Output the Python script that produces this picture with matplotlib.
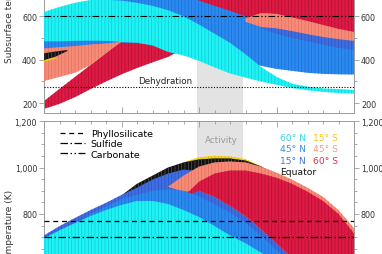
import numpy as np
import matplotlib.pyplot as plt
from matplotlib.lines import Line2D
from matplotlib.ticker import MultipleLocator, FuncFormatter

nan = np.nan

# time axis (arbitrary units, major tick every 5)
x = np.arange(21)
activity = (9.9, 12.85)

# ---- top panel: subsurface temperature envelopes (K) ----
cyan_hi = [620, 643, 662, 675, 676, 672, 662, 648, 628, 600, 562, 520, 478, 425, 367, 321, 290, 276, 268, 265, 261]
cyan_lo = [485, 485, 487, 488, 487, 482, 478, 466, 436, 420, 395, 365, 337, 318, 300, 285, 270, 260, 252, 247, 244]
dodger_hi = [560, 590, 620, 660, 700, 720, 720, 720, 720, 700, 672, 648, 625, 600, 570, 556, 546, 536, 528, 522, 518]
dodger_lo = [445, 448, 455, 462, 470, 478, 480, 480, 480, 470, 450, 430, 400, 385, 372, 358, 349, 340, 335, 333, 332]
royal_hi = [450, 455, 460, nan, nan, nan, nan, nan, nan, nan, nan, nan, nan, nan, 550, 545, 540, 530, 520, 510, 500]
royal_lo = [425, 430, 440, nan, nan, nan, nan, nan, nan, nan, nan, nan, nan, nan, 545, 520, 500, 485, 470, 455, 445]
salmon_hi = [452, 458, 463, 470, 475, 482, nan, nan, nan, nan, nan, nan, nan, 590, 615, 611, 595, 578, 560, 542, 528]
salmon_lo = [302, 321, 340, 376, 431, 482, nan, nan, nan, nan, nan, nan, nan, 575, 551, 545, 532, 518, 505, 495, 487]
red_hi = [210, 266, 321, 376, 431, 487, 560, 640, 720, 760, 760, 760, 760, 760, 760, 760, 760, 760, 760, 760, 760]
red_lo = [174, 197, 228, 265, 300, 333, 362, 388, 413, 450, 480, 520, 540, 560, 560, 560, 555, 550, 540, 530, 520]
black_x = [0, 0.75, 1.5]
black_hi = [430, 438, 445]
black_lo = [398, 415, 440]
yellow_x = [0, 0.4, 0.8]
yellow_hi = [404, 406, 410]
yellow_lo = [392, 398, 406]

# ---- bottom panel: temperature envelopes (K) ----
cyan_b = [695, 730, 761, 791, 817, 839, 856, 856, 843, 817, 787, 748, 708, 674, 634, 600, 560, 520, 480, 440, 400]
dodger_b = [660, 700, 745, 800, 832, 864, 882, 900, 905, 900, 875, 842, 806, 762, 706, 645, 592, 540, 500, 460, 420]
royal_b = [708, 748, 783, 817, 848, 882, 913, 948, 974, 991, 985, 960, 925, 880, 830, 770, 700, 640, 580, 520, 460]
black_b = [nan, nan, nan, nan, nan, 880, 930, 965, 1000, 1022, 1035, 1039, 1039, 1030, 1005, 970, nan, nan, nan, nan, nan]
yellow_b = [nan, nan, nan, nan, nan, nan, nan, nan, nan, 1022, 1044, 1050, 1048, 1036, 1005, nan, nan, nan, nan, nan, nan]
red_b_hi = [nan, nan, nan, nan, nan, nan, nan, nan, nan, 874, 939, 974, 987, 987, 974, 956, 930, 896, 856, 800, 717]
red_b_lo = [nan, nan, nan, nan, nan, nan, nan, nan, nan, 874, 900, 874, 835, 791, 735, 674, 613, 450, 400, 400, 400]
salmon_b_hi = [nan, nan, nan, nan, nan, nan, nan, nan, 917, 965, 1004, 1022, 1026, 1022, 1004, 978, 948, 913, 874, 817, 739]
salmon_b_lo = [nan, nan, nan, nan, nan, nan, nan, nan, 917, 896, 900, 874, 835, 791, 735, 674, 613, 450, 400, 400, 400]

phyllosilicate = 771
sulfide = 701
carbonate = 600
dehydration = 273

# fill colour, stripe colour
CYAN = ('#1ef2f2', '#12cbdc')
DODGER = ('#2a8af0', '#1d6ed6')
ROYAL = ('#3f6ee0', '#2c52c2')
SALMON = ('#f68b78', '#e2705e')
RED = ('#dc1a44', '#b50f33')
YELLOW = ('#f7d417', '#d8b400')
BLACK = ('#111111', '#555555')

ls_phyl = (0, (4, 3))
ls_sulf = (0, (6, 2, 1.2, 2))
ls_carb = (0, (6, 2, 1.2, 2, 1.2, 2))

plt.rcParams['font.family'] = 'DejaVu Sans'
plt.rcParams['hatch.linewidth'] = 0.5

fig = plt.figure(figsize=(3.82, 2.55), dpi=100)
ax1 = fig.add_axes([44/382, 141/255, 310/382, 129.3/255])
ax2 = fig.add_axes([44/382, -53/255, 310/382, 186/255])


def band(ax, xs, lo, hi, colors, z):
    face, stripe = colors
    ax.fill_between(xs, lo, hi, facecolor=face, edgecolor=stripe, hatch='|||||',
                    lw=0, zorder=z)


# top panel, back to front
band(ax1, x, red_lo, red_hi, RED, 2)
band(ax1, x, dodger_lo, dodger_hi, DODGER, 3)
band(ax1, x, royal_lo, royal_hi, ROYAL, 4)
band(ax1, x, salmon_lo, salmon_hi, SALMON, 5)
band(ax1, yellow_x, yellow_lo, yellow_hi, YELLOW, 6)
band(ax1, black_x, black_lo, black_hi, BLACK, 7)
band(ax1, x, cyan_lo, cyan_hi, CYAN, 8)

# bottom panel, back to front
floor = 400
band(ax2, x, floor, yellow_b, YELLOW, 2)
band(ax2, x, floor, black_b, BLACK, 3)
band(ax2, x, floor, royal_b, ROYAL, 4)
band(ax2, x, salmon_b_lo, salmon_b_hi, SALMON, 5)
band(ax2, x, red_b_lo, red_b_hi, RED, 6)
band(ax2, x, floor, dodger_b, DODGER, 7)
band(ax2, x, floor, cyan_b, CYAN, 8)

for ax in (ax1, ax2):
    ax.axvspan(*activity, color='#e3e3e3', lw=0, zorder=0)
    ax.set_xlim(0, 20)
    ax.xaxis.set_major_locator(MultipleLocator(5))
    ax.xaxis.set_minor_locator(MultipleLocator(1))
    for s in ax.spines.values():
        s.set_color('#9a9a9a')
        s.set_linewidth(0.7)
    ax.tick_params(axis='x', which='both', direction='in', top=True, bottom=True,
                   labelbottom=False, labeltop=False, color='#9a9a9a', width=0.6)
    ax.tick_params(axis='x', which='major', length=4)
    ax.tick_params(axis='x', which='minor', length=2.5)
    ax.tick_params(axis='y', which='both', direction='out', left=True, right=True,
                   labelleft=True, labelright=True, color='#9a9a9a', width=0.6,
                   labelsize=5.8, labelcolor='#333333', pad=1.5)
    ax.tick_params(axis='y', which='major', length=3.5)
    ax.tick_params(axis='y', which='minor', length=2)

ax1.set_ylim(155, 750)
ax1.yaxis.set_major_locator(MultipleLocator(200))
ax1.yaxis.set_minor_locator(MultipleLocator(100))
ax2.set_ylim(400, 1200)
ax2.set_yticks([800, 1000, 1200])
ax2.yaxis.set_minor_locator(MultipleLocator(50))
ax2.yaxis.set_major_formatter(FuncFormatter(lambda v, p: f'{v:,.0f}'))

# threshold lines
ax1.axhline(carbonate, color='black', lw=0.8, ls=ls_carb, zorder=10)
ax1.axhline(dehydration, color='black', lw=0.8, ls=(0, (1, 1.5)), zorder=10)
ax1.text(6.06, dehydration + 10, 'Dehydration', fontsize=6.3, color='#222222',
         ha='left', va='bottom', zorder=11)
ax2.axhline(phyllosilicate, color='black', lw=0.9, ls=ls_phyl, zorder=10)
ax2.axhline(sulfide, color='black', lw=0.9, ls=ls_sulf, zorder=10)
ax2.axhline(carbonate, color='black', lw=0.9, ls=ls_carb, zorder=10)
ax2.text(11.42, 1122, 'Activity', fontsize=6.3, color='#9a9a9a', ha='center', va='center', zorder=11)

handles = [Line2D([], [], color='black', lw=0.9, ls=ls_phyl),
           Line2D([], [], color='black', lw=0.9, ls=ls_sulf),
           Line2D([], [], color='black', lw=0.9, ls=ls_carb)]
ax2.legend(handles, ['Phyllosilicate', 'Sulfide', 'Carbonate'], loc='upper left',
           bbox_to_anchor=(0.052, 0.958), frameon=False, fontsize=6.8,
           borderpad=0, borderaxespad=0, handlelength=2.65, handletextpad=0.6,
           labelspacing=0.15)

lat_rows = [(('60° N', '#33d6e6'), ('15° S', '#f2c81a')),
            (('45° N', '#3f8de0'), ('45° S', '#f29a86')),
            (('15° N', '#4a73d6'), ('60° S', '#d9304f')),
            (('Equator', '#111111'),)]
row_y = [0.911, 0.851, 0.789, 0.726]
for row, yy in zip(lat_rows, row_y):
    for (label, col), xx in zip(row, (0.761, 0.868)):
        ax2.text(xx, yy, label, transform=ax2.transAxes, fontsize=6.6, color=col,
                 ha='left', va='center', zorder=11)

fig.text(10/382, (255-63)/255, 'Subsurface temperature (K)', rotation=90,
         ha='center', va='bottom', fontsize=6.5, color='#333333')
fig.text(10/382, (255-190)/255, 'Temperature (K)', rotation=90,
         ha='center', va='top', fontsize=6.5, color='#333333')

fig.savefig('out.png', dpi=100)
